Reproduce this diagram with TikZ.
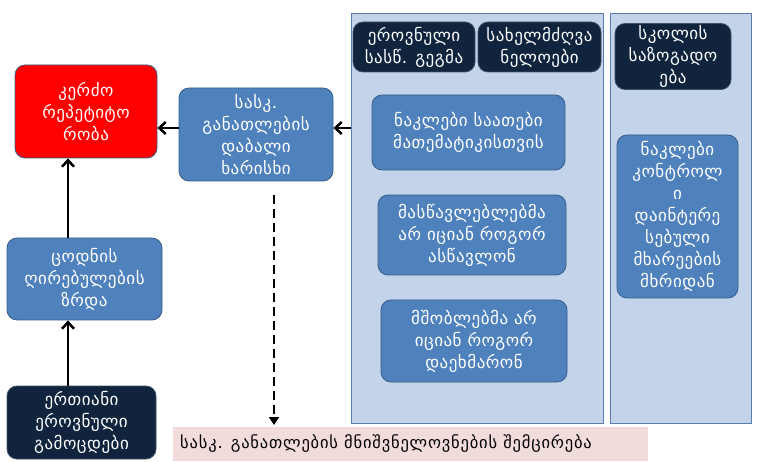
\documentclass[tikz,border=0pt]{standalone}
\usepackage{fontspec}
\setmainfont{DejaVu Sans}
\usetikzlibrary{arrows.meta}
\definecolor{midblue}{HTML}{4F81BD}
\definecolor{boxedge}{HTML}{385D8A}
\definecolor{navy}{HTML}{10243E}
\definecolor{panelfill}{HTML}{C3D3E9}
\definecolor{paneledge}{HTML}{5A7CAE}
\definecolor{pinkfill}{HTML}{F2DCDB}
\tikzset{
  box/.style={draw=boxedge, line width=0.8pt, rounded corners=10pt, align=center,
    text=white, inner sep=2pt, font=\fontsize{17}{22}\selectfont\addfontfeature{LetterSpace=3}},
  bluebox/.style={box, fill=midblue},
  navybox/.style={box, fill=navy, draw=navy!80!white},
  redbox/.style={box, fill=red},
  panel/.style={draw=paneledge, line width=0.8pt, fill=panelfill},
  arr/.style={-{Straight Barb[length=6.5pt,width=12pt]}, line width=2.5pt, black},
  darr/.style={-{Triangle[length=8pt,width=10pt]}, line width=2.6pt, black, dash pattern=on 9pt off 5pt}
}
\begin{document}
\begin{tikzpicture}[x=1pt,y=1pt]
\useasboundingbox (0,0) rectangle (758,461);
% panels
\node[panel, minimum width=252pt, minimum height=410pt, inner sep=0pt] (p1) at (477,243) {};
\node[panel, minimum width=141pt, minimum height=410pt, inner sep=0pt] (p2) at (680.5,243) {};
% left column
\node[redbox, minimum width=142pt, minimum height=93pt] (rep) at (86,349.5) {კერძო\\რეპეტიტო\\რობა};
\node[bluebox, minimum width=154pt, minimum height=93pt] (low) at (256,326.5) {სასკ.\\განათლების\\დაბალი\\ხარისხი};
\node[bluebox, minimum width=155pt, minimum height=82pt] (val) at (84.5,182) {ცოდნის\\ღირებულების\\ზრდა};
\node[navybox, minimum width=149pt, minimum height=73pt] (exam) at (81.5,38.5) {ერთიანი\\ეროვნული\\გამოცდები};
% panel 1 content
\node[navybox, minimum width=122pt, minimum height=50pt] (plan) at (414,414) {ეროვნული\\სასწ. გეგმა};
\node[navybox, minimum width=123pt, minimum height=50pt] (books) at (539.5,414) {სახელმძღვა\\ნელოები};
\node[bluebox, minimum width=193pt, minimum height=75pt] (hours) at (468.5,328.5) {ნაკლები საათები\\მათემატიკისთვის};
\node[bluebox, minimum width=188pt, minimum height=80pt] (teach) at (472,226) {მასწავლებლებმა\\არ იციან როგორ\\ასწავლონ};
\node[bluebox, minimum width=186pt, minimum height=82pt] (par) at (474,120) {მშობლებმა არ\\იციან როგორ\\დაეხმარონ};
% panel 2 content
\node[navybox, minimum width=116pt, minimum height=63pt] (soc) at (673,404.5) {სკოლის\\საზოგადო\\ება};
\node[bluebox, minimum width=121pt, minimum height=163pt] (ctrl) at (677.5,244.5) {ნაკლები\\კონტროლ\\ი\\დაინტერე\\სებული\\მხარეების\\მხრიდან};
% bottom label
\node[fill=pinkfill, minimum width=475pt, minimum height=34pt, inner sep=0pt] (lbl) at (410.5,17) {};
\node[anchor=west, inner sep=0pt, font=\fontsize{16.5}{18}\selectfont\addfontfeature{LetterSpace=5}] (lbltext) at (180,17) {სასკ. განათლების მნიშვნელოვნების შემცირება};
% arrows
\coordinate (vx) at (68,0);
\draw[arr] (exam.north -| vx) -- (val.south -| vx);
\draw[arr] (val.north -| vx) -- (rep.south -| vx);
\coordinate (hy) at (0,333);
\draw[arr] (low.west |- hy) -- (rep.east |- hy);
\draw[arr] (p1.west |- hy) -- (low.east |- hy);
\coordinate (dstart) at (274,266);
\coordinate (dend) at (274,36);
\draw[darr] (dstart) -- (dend);
\end{tikzpicture}
\end{document}
